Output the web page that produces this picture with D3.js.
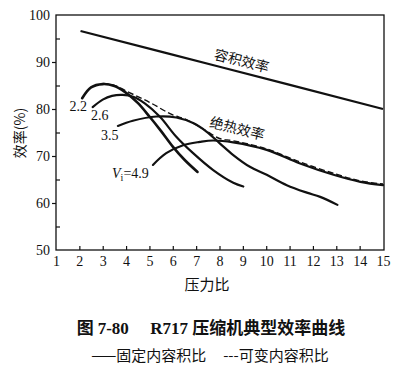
<!DOCTYPE html>
<html><head><meta charset="utf-8">
<script src="https://cdn.jsdelivr.net/npm/d3@7"></script>
<style>body{margin:0;background:#fff}svg{display:block}</style>
</head><body>
<script>
const xTicks = [1,2,3,4,5,6,7,8,9,10,11,12,13,14,15];
const yTicks = [50,60,70,80,90,100];
const yMinor = [55,65,75,85,95];
// 容积效率
const volX = [2.05, 8, 15];
const volY = [96.6, 89.0, 80.0];
// fixed Vi curves
const c22x = [2.12, 2.5, 3.0, 3.5, 3.93, 4.5, 5.0, 5.5, 6.0, 6.5, 7.06];
const c22y = [82.3, 84.6, 85.3, 84.9, 83.7, 81.3, 78.4, 75.3, 72.0, 69.2, 66.6];
const c26x = [2.57, 3.0, 3.4, 3.86, 4.3, 4.8, 5.44, 6.15, 6.87, 7.73, 8.59, 9.02];
const c26y = [80.4, 82.0, 82.8, 83.0, 82.6, 81.2, 78.4, 74.1, 70.6, 67.0, 64.3, 63.5];
const c35x = [3.65, 4.29, 5.3, 6.15, 6.87, 7.44, 8.01, 8.59, 9.3, 10.02, 10.88, 11.74, 12.31, 13.05];
const c35y = [76.4, 77.5, 78.4, 78.2, 77.0, 75.2, 72.7, 70.2, 67.7, 66.0, 63.8, 62.2, 61.3, 59.6];
const c49x = [5.15, 5.72, 6.44, 7.16, 7.73, 8.59, 10.02, 11.45, 12.88, 14.03, 15.0];
const c49y = [68.1, 70.6, 72.3, 73.0, 73.3, 72.9, 71.3, 68.4, 66.0, 64.5, 63.8];
// 绝热效率 envelope (可变内容积比)
const envX = [3.0, 3.5, 4.0, 5.0, 6.0, 6.5, 7.0, 7.5, 8.0, 8.6, 10.0, 11.5, 13.0, 14.0, 15.0];
const envY = [85.3, 84.9, 83.7, 81.3, 78.6, 77.8, 76.5, 75.0, 73.6, 73.1, 71.4, 68.5, 66.0, 64.6, 63.9];
const curveLabels = ["2.2", "2.6", "3.5", "4.9"];
const xTitle = "压力比";
const yTitle = "效率(%)";
const volLabel = "容积效率";
const adiLabel = "绝热效率";
const caption1 = ["图 ", "7-80", "     R717 ", "压缩机典型效率曲线"];
const caption2 = "——固定内容积比     ---可变内容积比";

const W = 408, H = 367;
const svg = d3.select("body").append("svg").attr("width", W).attr("height", H);
const x = d3.scaleLinear().domain([1, 15]).range([56, 383]);
const y = d3.scaleLinear().domain([50, 100]).range([250, 15]);
const serif = "'Liberation Serif','Times New Roman',serif";
const cjk = "'Noto Sans CJK SC','Noto Sans',sans-serif";

// frame
svg.append("rect").attr("x", x(1)).attr("y", y(100)).attr("width", 384 - x(1)).attr("height", y(50) - y(100))
  .attr("fill", "none").attr("stroke", "#111").attr("stroke-width", 1.3);

// x axis
const xa = svg.append("g").attr("transform", `translate(0,${y(50)})`)
  .call(d3.axisBottom(x).tickValues(xTicks).tickSize(-4).tickPadding(6).tickFormat(d3.format("d")));
xa.select(".domain").remove();
xa.selectAll("line").attr("stroke", "#111").attr("stroke-width", 1.2).filter(d => d === 1 || d === 15).remove();
xa.selectAll("text").attr("font-family", serif).attr("font-size", 14).attr("fill", "#111");

// y axis
const ya = svg.append("g").attr("transform", `translate(${x(1)},0)`)
  .call(d3.axisLeft(y).tickValues(yTicks).tickSize(4).tickPadding(2).tickFormat(d3.format("d")));
ya.select(".domain").remove();
ya.selectAll("line").attr("stroke", "#111").attr("stroke-width", 1.2).filter(d => d === 50 || d === 100).remove();
ya.selectAll("text").attr("font-family", serif).attr("font-size", 14).attr("fill", "#111");
const ym = svg.append("g").attr("transform", `translate(${x(1)},0)`)
  .call(d3.axisRight(y).tickValues(yMinor).tickSize(4).tickFormat(""));
ym.select(".domain").remove();
ym.selectAll("line").attr("stroke", "#111").attr("stroke-width", 1.2);

const line = d3.line().x(d => x(d[0])).y(d => y(d[1])).curve(d3.curveCatmullRom.alpha(0.5));
const zip = (a, b) => a.map((v, i) => [v, b[i]]);

svg.append("path").attr("d", line(zip(volX, volY))).attr("fill", "none").attr("stroke", "#111").attr("stroke-width", 2.2);
[[c22x, c22y, 2.6], [c26x, c26y, 2.2], [c35x, c35y, 2.2], [c49x, c49y, 2.2]].forEach(([a, b, w]) => {
  svg.append("path").attr("d", line(zip(a, b))).attr("fill", "none").attr("stroke", "#111")
    .attr("stroke-width", w).attr("stroke-linecap", "round");
});
svg.append("path").attr("d", line(zip(envX, envY))).attr("transform", "translate(0,-0.6)").attr("fill", "none").attr("stroke", "#111")
  .attr("stroke-width", 1.4).attr("stroke-dasharray", "6,3");

// curve labels
const lab = svg.append("g").attr("font-family", serif).attr("font-size", 14).attr("fill", "#111");
lab.append("text").attr("x", x(1.95)).attr("y", y(79.6)).attr("text-anchor", "middle").text(curveLabels[0]);
lab.append("text").attr("x", x(2.87)).attr("y", y(77.6)).attr("text-anchor", "middle").text(curveLabels[1]);
lab.append("text").attr("x", x(3.3)).attr("y", y(73.4)).attr("text-anchor", "middle").text(curveLabels[2]);
const vt = lab.append("text").attr("x", x(3.4)).attr("y", y(65.4));
vt.append("tspan").attr("font-style", "italic").text("V");
vt.append("tspan").attr("font-size", 10).attr("dy", 3).text("i");
vt.append("tspan").attr("dy", -3).text("=" + curveLabels[3]);

// rotated labels
svg.append("text").attr("transform", `translate(${x(8.9)},${y(89.2)}) rotate(14)`).attr("text-anchor", "middle")
  .attr("font-family", cjk).attr("font-size", 14).attr("fill", "#111").text(volLabel);
svg.append("text").attr("transform", `translate(${x(8.7)},${y(74.8)}) rotate(14)`).attr("text-anchor", "middle")
  .attr("font-family", cjk).attr("font-size", 14).attr("fill", "#111").text(adiLabel);

// titles
svg.append("text").attr("x", 207).attr("y", 290).attr("text-anchor", "middle")
  .attr("font-family", cjk).attr("font-size", 15).attr("fill", "#111").text(xTitle);
svg.append("text").attr("transform", "translate(25,133) rotate(-90)").attr("text-anchor", "middle")
  .attr("font-family", cjk).attr("font-size", 14).attr("fill", "#111").text(yTitle);

// caption
const cap = svg.append("text").attr("x", 211).attr("y", 334).attr("text-anchor", "middle")
  .attr("font-size", 17).attr("font-weight", "bold").attr("fill", "#111").attr("xml:space", "preserve");
caption1.forEach((t, i) => cap.append("tspan").attr("font-family", i === 3 || i === 0 ? cjk : serif).text(t));
svg.append("text").attr("x", 210).attr("y", 361).attr("text-anchor", "middle").attr("xml:space", "preserve")
  .attr("font-family", cjk).attr("font-size", 15).attr("fill", "#111").text(caption2);
</script>
</body></html>
